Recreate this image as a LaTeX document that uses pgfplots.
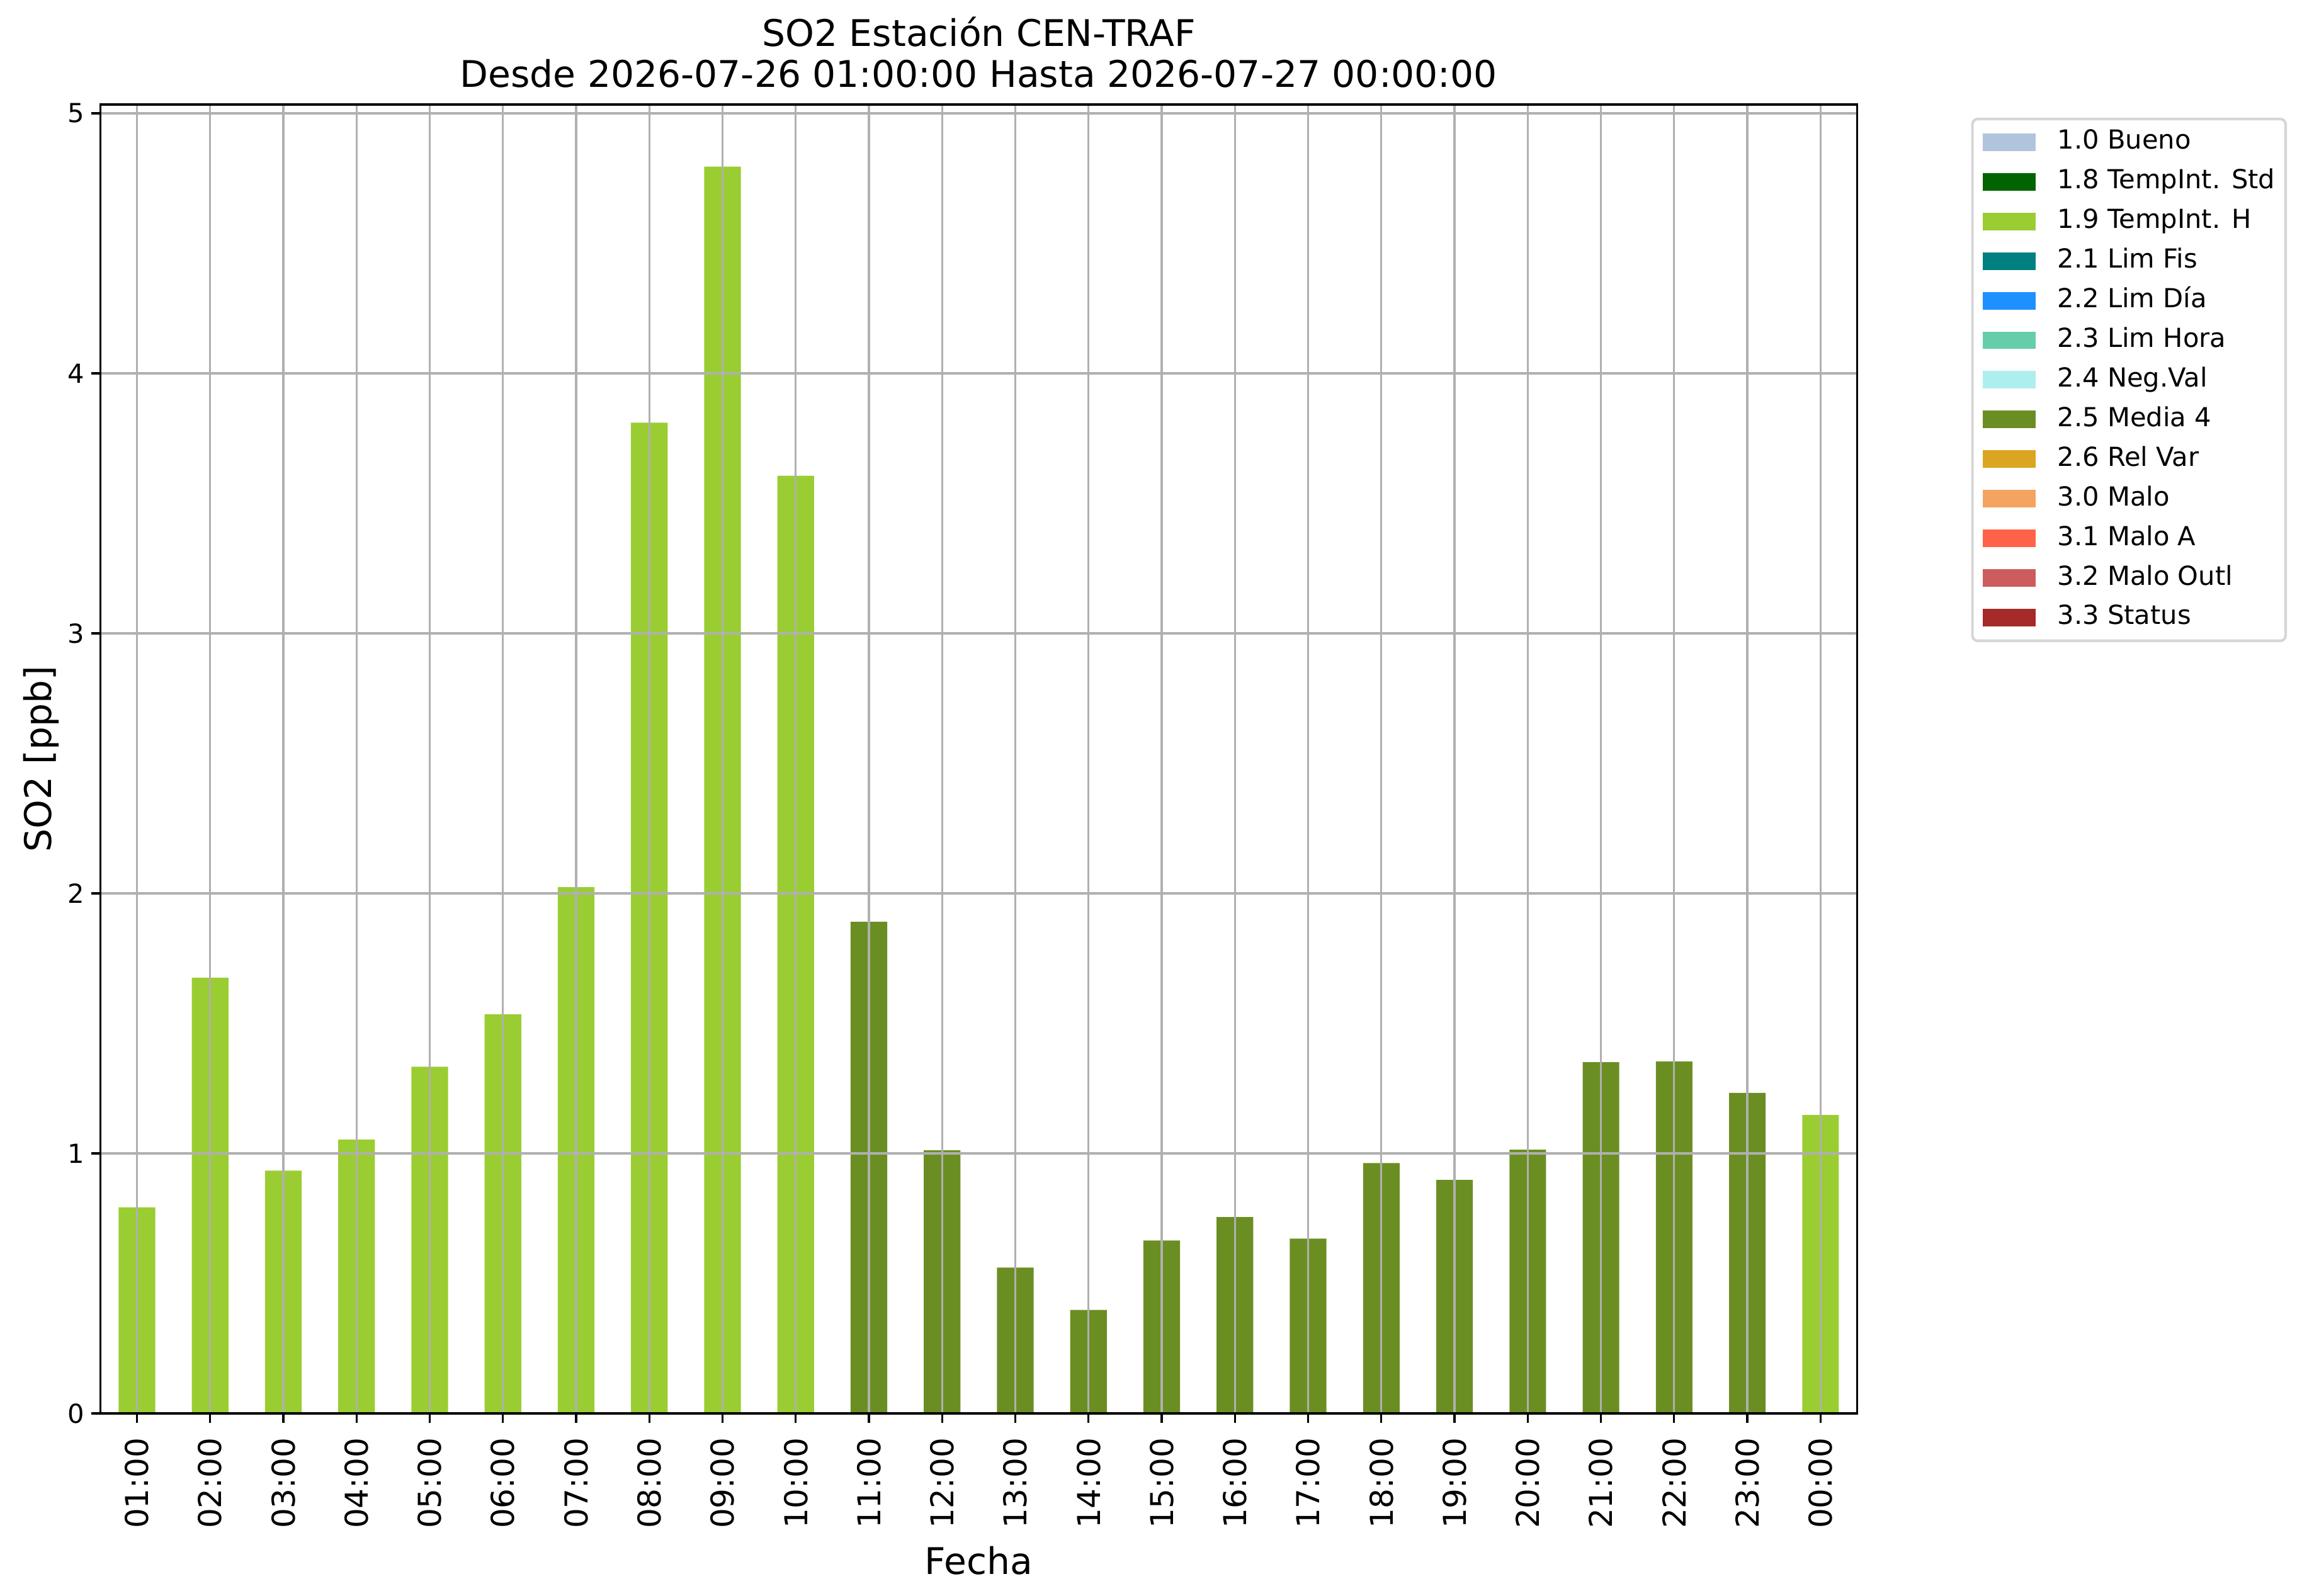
\documentclass[border=0pt]{standalone}
\usepackage{fontspec}
\setmainfont{DejaVu Sans}
\usepackage{pgfplots}
\pgfplotsset{compat=1.18}
\definecolor{lightsteelblue}{HTML}{B0C4DE}
\definecolor{darkgreen}{HTML}{006400}
\definecolor{yellowgreen}{HTML}{9ACD32}
\definecolor{teal}{HTML}{008080}
\definecolor{dodgerblue}{HTML}{1E90FF}
\definecolor{mediumaquamarine}{HTML}{66CDAA}
\definecolor{paleturquoise}{HTML}{AFEEEE}
\definecolor{olivedrab}{HTML}{6B8E23}
\definecolor{goldenrod}{HTML}{DAA520}
\definecolor{sandybrown}{HTML}{F4A460}
\definecolor{tomato}{HTML}{FF6347}
\definecolor{indianred}{HTML}{CD5C5C}
\definecolor{brown}{HTML}{A52A2A}
\definecolor{gridgray}{HTML}{B0B0B0}
\definecolor{framegray}{HTML}{D6D6D6}
\begin{document}
\begin{tikzpicture}
\begin{axis}[
  at={(0pt,0pt)}, anchor=south west,
  scale only axis, width=669.6pt, height=498.96pt,
  xmin=-0.5, xmax=23.5, ymin=0, ymax=5.034,
  ybar, bar width=0.5, bar shift=0pt,
  xtick={0,1,...,23},
  xticklabels={01:00,02:00,03:00,04:00,05:00,06:00,07:00,08:00,09:00,10:00,11:00,12:00,13:00,14:00,15:00,16:00,17:00,18:00,19:00,20:00,21:00,22:00,23:00,00:00},
  ytick={0,1,2,3,4,5},
  tick align=outside, xtick pos=lower, ytick pos=left,
  major tick length=3.5pt,
  tick style={black, line width=0.8pt},
  axis line style={black, line width=0.8pt},
  grid=major, major grid style={color=gridgray, line width=0.8pt},
  axis on top,
  /pgf/number format/assume math mode=true,
  xticklabel style={rotate=90, anchor=east, inner sep=0pt, font=\fontsize{12}{14}\selectfont},
  yticklabel style={anchor=east, inner sep=0pt, font=\fontsize{10}{12}\selectfont},
  xticklabel shift=5.6pt, yticklabel shift=2.5pt,
  every axis title shift=0pt,
  title={SO2 Estación CEN-TRAF\\Desde 2026-07-26 01:00:00 Hasta 2026-07-27 00:00:00},
  title style={at={(0.5,1.01243)}, anchor=south, inner sep=0pt, align=center, font=\fontsize{14}{15.6}\selectfont},
  xlabel={Fecha},
  xlabel style={at={(0.5,-0.12265)}, anchor=base, inner sep=0pt, font=\fontsize{14}{16}\selectfont},
  ylabel={SO2 [ppb]},
  ylabel style={at={(-0.0278,0.5)}, anchor=base, inner sep=0pt, font=\fontsize{14}{16}\selectfont},
  legend style={at={(1.0649,0.9899)}, anchor=north west, draw=framegray, line width=1pt, rounded corners=2pt,
    inner xsep=4pt, inner ysep=4pt, font=\fontsize{10}{12}\selectfont, cells={anchor=west}, row sep=5.4pt,
    nodes={inner sep=0pt, text height=7.5pt, text depth=2.2pt},
    /tikz/every odd column/.append style={column sep=8.4pt}},
  legend image code/.code={\fill[#1, sharp corners] (0pt,-3.35pt) rectangle (20pt,3.35pt);},
]
\addplot[fill=yellowgreen, draw=none, forget plot] coordinates {
(0,0.793) (1,1.676) (2,0.934) (3,1.053) (4,1.333) (5,1.535) (6,2.024) (7,3.81) (8,4.795) (9,3.606) (23,1.148)};
\addplot[fill=olivedrab, draw=none, forget plot] coordinates {
(10,1.891) (11,1.012) (12,0.561) (13,0.398) (14,0.665) (15,0.755) (16,0.672) (17,0.963) (18,0.898) (19,1.014) (20,1.351) (21,1.354) (22,1.233)};
\addlegendimage{fill=lightsteelblue, draw=none}\addlegendentry{1.0 Bueno}
\addlegendimage{fill=darkgreen, draw=none}\addlegendentry{1.8 TempInt. Std}
\addlegendimage{fill=yellowgreen, draw=none}\addlegendentry{1.9 TempInt. H}
\addlegendimage{fill=teal, draw=none}\addlegendentry{2.1 Lim Fis}
\addlegendimage{fill=dodgerblue, draw=none}\addlegendentry{2.2 Lim Día}
\addlegendimage{fill=mediumaquamarine, draw=none}\addlegendentry{2.3 Lim Hora}
\addlegendimage{fill=paleturquoise, draw=none}\addlegendentry{2.4 Neg.Val}
\addlegendimage{fill=olivedrab, draw=none}\addlegendentry{2.5 Media 4}
\addlegendimage{fill=goldenrod, draw=none}\addlegendentry{2.6 Rel Var}
\addlegendimage{fill=sandybrown, draw=none}\addlegendentry{3.0 Malo}
\addlegendimage{fill=tomato, draw=none}\addlegendentry{3.1 Malo A}
\addlegendimage{fill=indianred, draw=none}\addlegendentry{3.2 Malo Outl}
\addlegendimage{fill=brown, draw=none}\addlegendentry{3.3 Status}
\end{axis}
\pgfresetboundingbox
\path[use as bounding box] (-38.26pt,-69.36pt) rectangle (839.18pt,538.8pt);
\end{tikzpicture}
\end{document}
